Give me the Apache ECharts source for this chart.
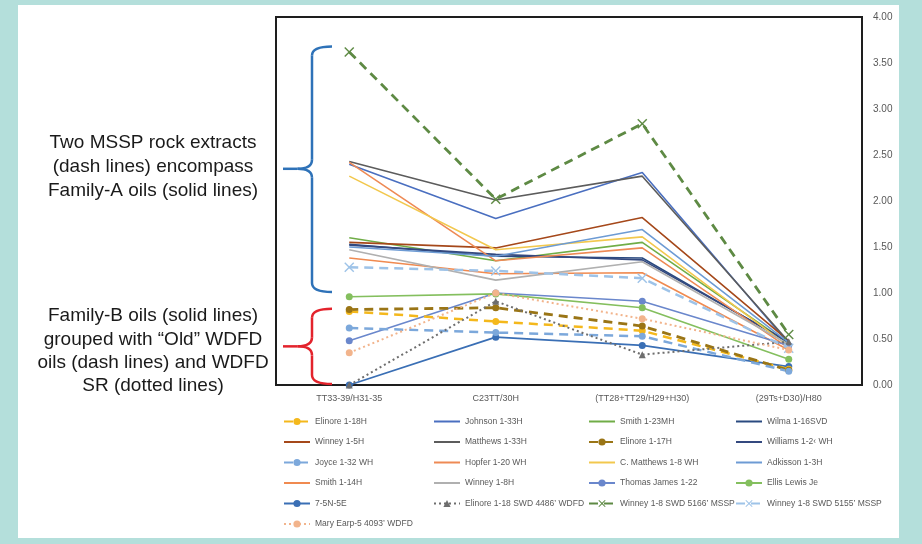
<!DOCTYPE html>
<html>
<head>
<meta charset="utf-8">
<script src="https://cdn.jsdelivr.net/npm/echarts@6/dist/echarts.min.js"></script>
<style>
  html, body { margin: 0; padding: 0; background: #b4dfdb; }
  #chart { width: 922px; height: 544px; }
</style>
</head>
<body>
<div id="chart"></div>
<script>
// Biomarker ratio categories along the x axis
const categories = ['TT33-39/H31-35', 'C23TT/30H', '(TT28+TT29/H29+H30)', '(29Ts+D30)/H80'];
const yTicks = [0, 0.5, 1, 1.5, 2, 2.5, 3, 3.5, 4];

// Ratio values per sample, one array per sample
const elinore118H   = [0.80, 0.69, 0.59, 0.17];
const johnson133H   = [2.40, 1.81, 2.31, 0.45];
const smith123MH    = [1.60, 1.35, 1.55, 0.45];
const wilma116SVD   = [1.53, 1.40, 1.38, 0.46];
const winney15H     = [1.55, 1.49, 1.82, 0.48];
const matthews133H  = [2.43, 2.01, 2.27, 0.47];
const elinore117H   = [0.82, 0.84, 0.64, 0.16];
const williams12WH  = [1.52, 1.42, 1.36, 0.47];
const joyce132WH    = [0.62, 0.57, 0.53, 0.15];
const hopfer120WH   = [2.42, 1.35, 1.49, 0.40];
const cMatthews18WH = [2.27, 1.47, 1.61, 0.42];
const adkisson13H   = [1.50, 1.40, 1.69, 0.46];
const smith114H     = [1.38, 1.21, 1.22, 0.38];
const winney18H     = [1.47, 1.14, 1.34, 0.44];
const thomasJames   = [0.48, 1.00, 0.91, 0.43];
const ellisLewis    = [0.96, 0.99, 0.84, 0.28];
const n75N5E        = [0.00, 0.52, 0.43, 0.20];
const elinoreSWD    = [0.00, 0.91, 0.33, 0.47];
const winney5166    = [3.62, 2.02, 2.84, 0.55];
const winney5155    = [1.28, 1.24, 1.16, 0.40];
const maryEarp      = [0.35, 1.00, 0.72, 0.38];

const X_MARK = 'path://M0,1L1,0L5,4L9,0L10,1L6,5L10,9L9,10L5,6L1,10L0,9L4,5Z';

// name, values, colour, line type, width, symbol
const defs = [
  ['Elinore 1-18H', elinore118H, '#f4b81c', [9, 6], 2.5, 'circle'],
  ['Johnson 1-33H', johnson133H, '#4a6fc0', 'solid', 1.6, 'none'],
  ['Smith 1-23MH', smith123MH, '#70ad47', 'solid', 1.6, 'none'],
  ['Wilma 1-16SVD', wilma116SVD, '#2a4a80', 'solid', 1.6, 'none'],
  ['Winney 1-5H', winney15H, '#a5481a', 'solid', 1.6, 'none'],
  ['Matthews 1-33H', matthews133H, '#5c5c5c', 'solid', 1.6, 'none'],
  ['Elinore 1-17H', elinore117H, '#9a7516', [9, 6], 2.8, 'circle'],
  ['Williams 1-2\u2039 WH', williams12WH, '#34497f', 'solid', 1.6, 'none'],
  ['Joyce 1-32 WH', joyce132WH, '#7ca8db', [9, 6], 2.5, 'circle'],
  ['Hopfer 1-20 WH', hopfer120WH, '#ee8a55', 'solid', 1.6, 'none'],
  ['C. Matthews 1-8 WH', cMatthews18WH, '#f2c84e', 'solid', 1.6, 'none'],
  ['Adkisson 1-3H', adkisson13H, '#6d9bd4', 'solid', 1.6, 'none'],
  ['Smith 1-14H', smith114H, '#f08a50', 'solid', 1.6, 'none'],
  ['Winney 1-8H', winney18H, '#b0b0b0', 'solid', 1.6, 'none'],
  ['Thomas James 1-22', thomasJames, '#6a87cc', 'solid', 1.6, 'circle'],
  ['Ellis Lewis Je', ellisLewis, '#84bf5e', 'solid', 1.6, 'circle'],
  ['7-5N-5E', n75N5E, '#3a6fb5', 'solid', 1.8, 'circle'],
  ['Elinore 1-18 SWD 4486\u2019 WDFD', elinoreSWD, '#6e6e6e', [2, 3], 2, 'triangle'],
  ['Winney 1-8 SWD 5166\u2019 MSSP', winney5166, '#5e8a44', [9, 6], 2.8, X_MARK],
  ['Winney 1-8 SWD 5155\u2019 MSSP', winney5155, '#9ec3e8', [9, 6], 2.5, X_MARK],
  ['Mary Earp-5 4093\u2019 WDFD', maryEarp, '#f2b48c', [2, 3], 2, 'circle']
];

const series = defs.map(function (d) {
  return {
    name: d[0],
    type: 'line',
    data: d[1],
    symbol: d[5],
    symbolSize: d[5] === 'none' ? 0 : (d[5] === X_MARK ? 10 : 7),
    showSymbol: d[5] !== 'none',
    lineStyle: { color: d[2], type: d[3], width: d[4] },
    itemStyle: { color: d[2] },
    z: d[3] === 'solid' ? 2 : 3,
    animation: false
  };
});

const FONT = 'Liberation Sans, Arial, sans-serif';
const legendFont = { fontSize: 8.5, color: '#595959', fontFamily: FONT };
function legendColumn(left, indices) {
  return {
    orient: 'vertical', left: left, top: 417, padding: 0,
    itemWidth: 26, itemHeight: 9, itemGap: 11.5,
    selectedMode: false,
    textStyle: legendFont,
    data: indices.map(function (i) {
      // plain line icon for series drawn without markers
      return defs[i][5] === 'none'
        ? { name: defs[i][0], itemStyle: { opacity: 0 } }
        : { name: defs[i][0] };
    })
  };
}

const chart = echarts.init(document.getElementById('chart'), null, { renderer: 'canvas' });

const note = function (text, y) {
  return { type: 'text', x: 153, y: y, style: { text: text, fill: '#1a1a1a', font: '19px ' + FONT, textAlign: 'center', textVerticalAlign: 'middle' }, z: 10 };
};

chart.setOption({
  backgroundColor: '#b4dfdb',
  animation: false,
  grid: { left: 276, right: 60, top: 17, bottom: 159, show: true, borderColor: '#1e1e1e', borderWidth: 2, backgroundColor: '#ffffff' },
  xAxis: {
    type: 'category', data: categories, boundaryGap: true,
    axisLine: { show: false }, axisTick: { show: false },
    axisLabel: { fontSize: 9, color: '#595959', fontFamily: FONT, margin: 9 }
  },
  yAxis: {
    type: 'value', position: 'right', min: yTicks[0], max: yTicks[yTicks.length - 1], interval: 0.5,
    splitLine: { show: false }, axisLine: { show: false }, axisTick: { show: false },
    axisLabel: { fontSize: 10, color: '#595959', fontFamily: FONT, margin: 11, formatter: function (v) { return v.toFixed(2); } }
  },
  legend: [
    legendColumn(283, [0, 4, 8, 12, 16, 20]),
    legendColumn(433, [1, 5, 9, 13, 17]),
    legendColumn(588, [2, 6, 10, 14, 18]),
    legendColumn(735, [3, 7, 11, 15, 19])
  ],
  series: series
});

// Curly bracket built from straight strokes and quadratic corners
function yPix(v) { return chart.convertToPixel({ yAxisIndex: 0 }, v); }
function bracket(top, mid, bottom, color) {
  const xv = 312, xe = 332, xn = 283, r = 9;
  const st = { stroke: color, lineWidth: 2.5, fill: null };
  const curve = function (x1, y1, cx, cy, x2, y2) {
    return { type: 'bezierCurve', shape: { x1: x1, y1: y1, cpx1: cx, cpy1: cy, x2: x2, y2: y2 }, style: st, z: 10, silent: true };
  };
  const line = function (x1, y1, x2, y2) {
    return { type: 'line', shape: { x1: x1, y1: y1, x2: x2, y2: y2 }, style: st, z: 10, silent: true };
  };
  return [
    curve(xe, top, xv, top, xv, top + r),
    line(xv, top + r, xv, mid - r),
    curve(xv, mid - r, xv, mid, xv - r * 1.6, mid),
    line(xv - r * 1.6, mid, xn, mid),
    curve(xv - r * 1.6, mid, xv, mid, xv, mid + r),
    line(xv, mid + r, xv, bottom - r),
    curve(xv, bottom - r, xv, bottom, xe, bottom)
  ];
}

chart.setOption({
  graphic: [
    { type: 'rect', shape: { x: 18, y: 5, width: 881, height: 533 }, style: { fill: '#ffffff' }, z: -10, silent: true },
    note('Two MSSP rock extracts', 143),
    note('(dash lines) encompass', 167),
    note('Family-A oils (solid lines)', 191),
    note('Family-B oils (solid lines)', 316),
    note('grouped with \u201cOld\u201d WDFD', 340),
    note('oils (dash lines) and WDFD', 363),
    note('SR (dotted lines)', 386)
  ].concat(
    bracket(yPix(3.68), yPix(2.35), yPix(1.01), '#2e72b8'),
    bracket(yPix(0.83), yPix(0.42), yPix(0.01), '#e3232c')
  )
});
</script>
</body>
</html>
